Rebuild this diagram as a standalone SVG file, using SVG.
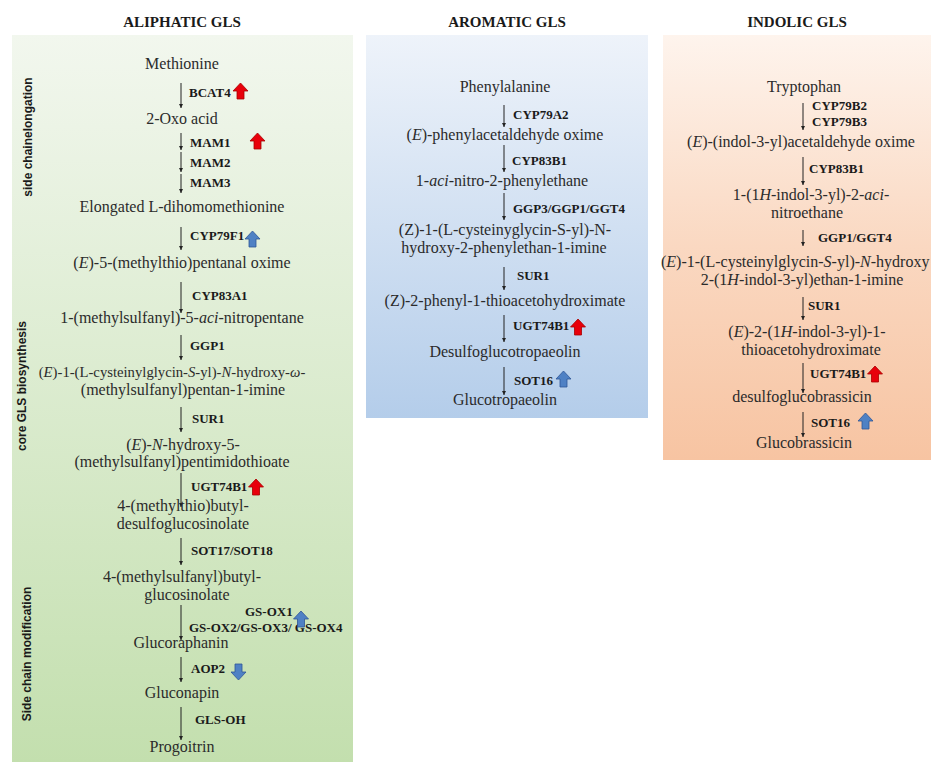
<svg xmlns="http://www.w3.org/2000/svg" width="931" height="762" viewBox="0 0 931 762">
<defs>
<linearGradient id="gGreen" x1="0" y1="0" x2="0" y2="1">
<stop offset="0" stop-color="#f2f7ee"/>
<stop offset="1" stop-color="#c3dfae"/>
</linearGradient>
<linearGradient id="gBlue" x1="0" y1="0" x2="0" y2="1">
<stop offset="0" stop-color="#eef3fa"/>
<stop offset="1" stop-color="#b4cdea"/>
</linearGradient>
<linearGradient id="gOrange" x1="0" y1="0" x2="0" y2="1">
<stop offset="0" stop-color="#fef4ed"/>
<stop offset="0.5" stop-color="#fad8c1"/>
<stop offset="1" stop-color="#f7c4a2"/>
</linearGradient>
<marker id="ah" viewBox="0 0 6 6" refX="6" refY="3" markerWidth="4" markerHeight="4" markerUnits="userSpaceOnUse" orient="auto">
<path d="M0,0 L6,3 L0,6 z" fill="#222"/>
</marker>
<path id="up" d="M0,0 L7.5,8 L3.5,8 L3.5,16 L-3.5,16 L-3.5,8 L-7.5,8 Z"/>
</defs>
<style>
.t{font-family:"Liberation Serif","Times New Roman",serif;font-size:16px;fill:#2b2b2b;text-anchor:middle}
.ts{font-family:"Liberation Serif","Times New Roman",serif;font-size:16px;fill:#2b2b2b}
.e{font-family:"Liberation Serif","Times New Roman",serif;font-size:13px;font-weight:bold;fill:#1a1a1a}
.h{font-family:"Liberation Serif","Times New Roman",serif;font-size:15px;font-weight:bold;fill:#1a1a1a;text-anchor:middle}
.v{font-family:"Liberation Sans",Arial,sans-serif;font-size:12px;font-weight:bold;fill:#1a1a1a;text-anchor:middle}
.i{font-style:italic}
.c line{stroke:#222;stroke-width:1;marker-end:url(#ah)}
.red{fill:#e8000b;stroke:#a80000;stroke-width:0.8}
.blue{fill:#4f81c4;stroke:#2f5597;stroke-width:0.8}
</style>

<g id="panels">
<rect x="12" y="35" width="341" height="727" fill="url(#gGreen)"/>
<rect x="366" y="35" width="282" height="383" fill="url(#gBlue)"/>
<rect x="663" y="35" width="268" height="425" fill="url(#gOrange)"/>
</g>

<g id="titles">
<text class="h" x="182" y="27">ALIPHATIC GLS</text>
<text class="h" x="507" y="27">AROMATIC GLS</text>
<text class="h" x="797" y="27">INDOLIC GLS</text>
<text class="v" transform="translate(32,137) rotate(-90)">side chainelongation</text>
<text class="v" transform="translate(26,386) rotate(-90)">core GLS biosynthesis</text>
<text class="v" transform="translate(31,654) rotate(-90)">Side chain modification</text>
</g>

<g id="connectors" class="c">
<line x1="181" y1="83" x2="181" y2="108"/>
<line x1="181" y1="133" x2="181" y2="150"/>
<line x1="181" y1="152" x2="181" y2="172"/>
<line x1="181" y1="174" x2="181" y2="193"/>
<line x1="181" y1="227" x2="181" y2="250"/>
<line x1="181" y1="282" x2="181" y2="313"/>
<line x1="181" y1="335" x2="181" y2="360"/>
<line x1="181" y1="407" x2="181" y2="432"/>
<line x1="181" y1="473" x2="181" y2="507"/>
<line x1="181" y1="538" x2="181" y2="565"/>
<line x1="181" y1="605" x2="181" y2="640"/>
<line x1="181" y1="657" x2="181" y2="682"/>
<line x1="181" y1="707" x2="181" y2="740"/>
<line x1="504" y1="105" x2="504" y2="127"/>
<line x1="504" y1="145" x2="504" y2="172"/>
<line x1="504" y1="193" x2="504" y2="220"/>
<line x1="504" y1="267" x2="504" y2="290"/>
<line x1="504" y1="315" x2="504" y2="342"/>
<line x1="504" y1="367" x2="504" y2="395"/>
<line x1="803" y1="103" x2="803" y2="130"/>
<line x1="803" y1="157" x2="803" y2="185"/>
<line x1="803" y1="230" x2="803" y2="246"/>
<line x1="803" y1="297" x2="803" y2="320"/>
<line x1="803" y1="363" x2="803" y2="393"/>
<line x1="803" y1="412" x2="803" y2="437"/>
</g>

<g id="enzymes">
<text class="e" x="189" y="97">BCAT4</text>
<text class="e" x="190" y="147">MAM1</text>
<text class="e" x="190" y="167">MAM2</text>
<text class="e" x="190" y="187">MAM3</text>
<text class="e" x="190" y="240">CYP79F1</text>
<text class="e" x="192" y="300">CYP83A1</text>
<text class="e" x="190" y="350">GGP1</text>
<text class="e" x="192" y="423">SUR1</text>
<text class="e" x="191" y="491">UGT74B1</text>
<text class="e" x="191" y="555">SOT17/SOT18</text>
<text class="e" x="245" y="616">GS-OX1</text>
<text class="e" x="189" y="632">GS-OX2/GS-OX3/ GS-OX4</text>
<text class="e" x="191" y="673">AOP2</text>
<text class="e" x="195" y="724">GLS-OH</text>
<text class="e" x="513" y="119">CYP79A2</text>
<text class="e" x="512" y="165">CYP83B1</text>
<text class="e" x="513" y="213">GGP3/GGP1/GGT4</text>
<text class="e" x="517" y="280">SUR1</text>
<text class="e" x="513" y="330">UGT74B1</text>
<text class="e" x="514" y="385">SOT16</text>
<text class="e" x="812" y="110">CYP79B2</text>
<text class="e" x="812" y="126">CYP79B3</text>
<text class="e" x="809" y="173">CYP83B1</text>
<text class="e" x="818" y="242">GGP1/GGT4</text>
<text class="e" x="808" y="310">SUR1</text>
<text class="e" x="810" y="378">UGT74B1</text>
<text class="e" x="811" y="427">SOT16</text>
</g>

<g id="regulation">
<use href="#up" class="red" transform="translate(240.5,83)"/>
<use href="#up" class="red" transform="translate(257.5,133)"/>
<use href="#up" class="blue" transform="translate(252.5,231)"/>
<use href="#up" class="red" transform="translate(256,479)"/>
<use href="#up" class="blue" transform="translate(301,611)"/>
<use href="#up" class="blue" transform="translate(238.5,680) scale(1,-1)"/>
<use href="#up" class="red" transform="translate(578,319)"/>
<use href="#up" class="blue" transform="translate(563.5,371)"/>
<use href="#up" class="red" transform="translate(875,366)"/>
<use href="#up" class="blue" transform="translate(865.5,413)"/>
</g>

<g id="n-methionine"><text class="t" x="182" y="69">Methionine</text></g>
<g id="n-oxoacid"><text class="t" x="182" y="124">2-Oxo acid</text></g>
<g id="n-elongated"><text class="t" x="182" y="212">Elongated L-dihomomethionine</text></g>
<g id="n-pentanal-oxime"><text class="t" x="182" y="268">(<tspan class="i">E</tspan>)-5-(methylthio)pentanal oxime</text></g>
<g id="n-aci-nitropentane"><text class="t" x="182" y="323">1-(methylsulfanyl)-5-<tspan class="i">aci</tspan>-nitropentane</text></g>
<g id="n-cys-pentan"><text class="t" x="172" y="377" style="font-size:14.7px">(<tspan class="i">E</tspan>)-1-(L-cysteinylglycin-<tspan class="i">S</tspan>-yl)-<tspan class="i">N</tspan>-hydroxy-<tspan class="i">ω</tspan>-</text><text class="t" x="183" y="395">(methylsulfanyl)pentan-1-imine</text></g>
<g id="n-pentimidothioate"><text class="t" x="183" y="450">(<tspan class="i">E</tspan>)-<tspan class="i">N</tspan>-hydroxy-5-</text><text class="t" x="182" y="467">(methylsulfanyl)pentimidothioate</text></g>
<g id="n-desulfo"><text class="t" x="183" y="511">4-(methylthio)butyl-</text><text class="t" x="183" y="529">desulfoglucosinolate</text></g>
<g id="n-msbutyl"><text class="t" x="182" y="582">4-(methylsulfanyl)butyl-</text><text class="t" x="187" y="600">glucosinolate</text></g>
<g id="n-glucoraphanin"><text class="t" x="181" y="648">Glucoraphanin</text></g>
<g id="n-gluconapin"><text class="t" x="182" y="698">Gluconapin</text></g>
<g id="n-progoitrin"><text class="t" x="182" y="752">Progoitrin</text></g>

<g id="n-phenylalanine"><text class="t" x="505" y="92">Phenylalanine</text></g>
<g id="n-phenylacetaldoxime"><text class="t" x="505" y="140">(<tspan class="i">E</tspan>)-phenylacetaldehyde oxime</text></g>
<g id="n-acinitrophenylethane"><text class="t" x="502" y="186">1-<tspan class="i">aci</tspan>-nitro-2-phenylethane</text></g>
<g id="n-cys-phenyl"><text class="t" x="505" y="235">(Z)-1-(L-cysteinyglycin-S-yl)-N-</text><text class="t" x="504" y="253">hydroxy-2-phenylethan-1-imine</text></g>
<g id="n-phenylthio"><text class="t" x="505" y="306">(Z)-2-phenyl-1-thioacetohydroximate</text></g>
<g id="n-desulfotropaeolin"><text class="t" x="505" y="357">Desulfoglucotropaeolin</text></g>
<g id="n-glucotropaeolin"><text class="t" x="505" y="405">Glucotropaeolin</text></g>

<g id="n-tryptophan"><text class="t" x="804" y="92">Tryptophan</text></g>
<g id="n-indoloxime"><text class="t" x="801" y="147">(<tspan class="i">E</tspan>)-(indol-3-yl)acetaldehyde oxime</text></g>
<g id="n-indolaci"><text class="t" x="811" y="200">1-(1<tspan class="i">H</tspan>-indol-3-yl)-2-<tspan class="i">aci</tspan>-</text><text class="t" x="807" y="218">nitroethane</text></g>
<g id="n-cys-indol"><text class="ts" x="661" y="267">(<tspan class="i">E</tspan>)-1-(L-cysteinylglycin-<tspan class="i">S</tspan>-yl)-<tspan class="i">N</tspan>-hydroxy</text><text class="t" x="802" y="285">2-(1<tspan class="i">H</tspan>-indol-3-yl)ethan-1-imine</text></g>
<g id="n-indolthio"><text class="t" x="807" y="337">(<tspan class="i">E</tspan>)-2-(1<tspan class="i">H</tspan>-indol-3-yl)-1-</text><text class="t" x="811" y="355">thioacetohydroximate</text></g>
<g id="n-desulfobrassicin"><text class="t" x="802" y="402">desulfoglucobrassicin</text></g>
<g id="n-glucobrassicin"><text class="t" x="804" y="448">Glucobrassicin</text></g>
</svg>
